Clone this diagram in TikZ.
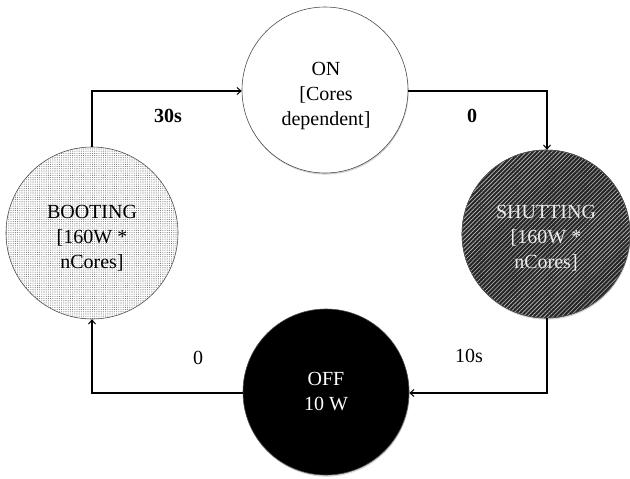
\documentclass[tikz,border=0pt]{standalone}
\usepackage{fontspec}
\setmainfont{Liberation Serif}
\usetikzlibrary{patterns,patterns.meta,shadows,arrows.meta}
\begin{document}
\begin{tikzpicture}[x=1pt,y=-1pt,
  state/.style={circle,draw=black!70,line width=0.6pt,inner sep=0pt},
  txt/.style={align=center,font=\fontsize{20}{25}\selectfont,inner sep=0pt},
  shad/.style={drop shadow={opacity=0.35,shadow xshift=0.6pt,shadow yshift=-1.6pt}},
  conn/.style={line width=1.3pt,-{Straight Barb[length=4pt,width=7pt,line width=1pt]}},
  lab/.style={font=\fontsize{20}{24}\selectfont}]
\useasboundingbox (0,0) rectangle (630,479);
% nodes
\node[state,shad,fill=white,minimum size=166pt] (on) at (325,90) {};
\node[txt] (ontxt) at (326,96) {ON\\{[}Cores\\dependent{]}};
\node[state,fill=white,pattern={Dots[distance=2.2pt,radius=0.55pt]},pattern color=black!55,minimum size=172pt] (boot) at (92,233) {};
\node[txt] (boottxt) at (92,238) {BOOTING\\{[}160W *\\nCores{]}};
\node[state,shad,fill=black!85,minimum size=168pt] (shut) at (546,234) {};
\node[state,pattern={Lines[angle=45,distance=3pt,line width=0.6pt]},pattern color=white!75!black,minimum size=168pt] (shutpat) at (546,234) {};
\node[txt,text=white!92!black] (shuttxt) at (546,238) {SHUTTING\\{[}160W *\\nCores{]}};
\node[state,shad,fill=black,minimum size=166pt] (off) at (326,392) {};
\node[txt,text=white] (offtxt) at (326,392) {OFF\\10 W};
% corner coordinates
\coordinate (c1) at (92,91);
\coordinate (c2) at (547,91);
\coordinate (c3) at (547,393);
\coordinate (c4) at (92,393);
% connectors
\draw[conn] (boot.north) -- (c1) -- (on.west |- c1);
\draw[conn] (on.east |- c2) -- (c2) -- (shut.north -| c2);
\draw[conn] (shut.south -| c3) -- (c3) -- (off.east |- c3);
\draw[conn] (off.west |- c4) -- (c4) -- (boot.south);
% labels
\node[lab,font=\fontsize{20}{24}\selectfont\bfseries] (l1) at (168,116) {30s};
\node[lab,font=\fontsize{20}{24}\selectfont\bfseries] (l2) at (472,116) {0};
\node[lab] (l3) at (469,356) {10s};
\node[lab] (l4) at (198,358) {0};
\end{tikzpicture}
\end{document}
